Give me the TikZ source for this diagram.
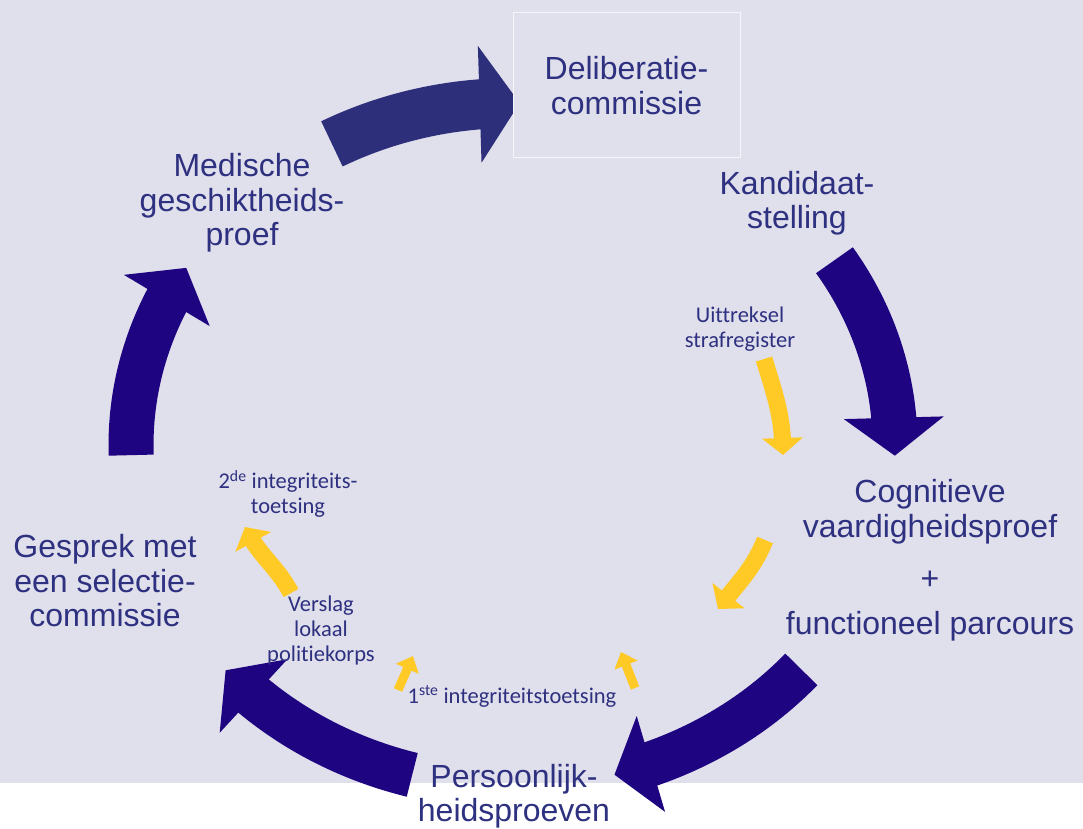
\documentclass[tikz,border=0pt]{standalone}
\usepackage{fontspec}
\setmainfont{Liberation Sans}
\newfontfamily\calibri[Ligatures=NoCommon]{Carlito}
\usetikzlibrary{arrows.meta,bending,calc}

\definecolor{bg}{RGB}{224,223,236}
\definecolor{ringblue}{RGB}{30,4,128}
\definecolor{topblue}{RGB}{45,47,123}
\definecolor{txtblue}{RGB}{46,48,128}
\definecolor{boxline}{RGB}{245,245,250}
\definecolor{yel}{RGB}{255,201,38}

\begin{document}
\begin{tikzpicture}[x=1pt,y=1pt]
		\useasboundingbox (0,0) rectangle (1083,828);
		\fill[white] (0,0) rectangle (1083,45);
		\fill[bg] (0,45) rectangle (1083,828);
		
		\coordinate (R) at (513,383);
		\coordinate (GT) at ($(R)+(181.7:382pt and 342pt)$);
		\coordinate (MT) at ($(R)+(118.3:382pt and 342pt)$);
		\coordinate (KT) at ($(R)+(32.7:382pt and 342pt)$);
		\coordinate (CT) at ($(R)+(-41:382pt and 342pt)$);
		\coordinate (PT) at ($(R)+(-105.3:382pt and 342pt)$);
		
		\tikzstyle{ring} = [line width=45pt,color=ringblue,-{Triangle[length=38pt,width=98pt]}]
		\draw [ring] (GT) arc[start angle=181.7,end angle=148.8,x radius=382pt,y radius=342pt];
		\draw [ring] (KT) arc[start angle=32.7,end angle=-1.8,x radius=382pt,y radius=342pt];
		\draw [ring] (CT) arc[start angle=-41,end angle=-74.6,x radius=382pt,y radius=342pt];
		\draw [ring] (PT) arc[start angle=-105.3,end angle=-138.8,x radius=382pt,y radius=342pt];
		
		\tikzstyle{ring} = [line width=50pt,color=topblue,-{Triangle[length=40pt,width=115pt]}]
		\draw [ring] (MT) arc[start angle=118.3,end angle=89,x radius=382pt,y radius=342pt];
		
		\begin{scope}[every node/.style={align=center,text=txtblue,inner sep=0pt,
				font=\fontsize{32}{34.5}\selectfont}]
			\node[draw=boxline,fill=bg,line width=1pt,minimum width=227pt,minimum height=145pt] (D) at (626.5,742.5) {Deliberatie-\\commissie};
			\node (K) at (797,625) {Kandidaat-\\stelling};
			\node (M) at (242,625) {Medische\\geschiktheids-\\proef};
			\node (C) at (930,268) {Cognitieve\\vaardigheidsproef\\[18pt]+\\[10pt]functioneel parcours};
			\node (G) at (105,247) {Gesprek met\\een selectie-\\commissie};
			\node (P) at (514,32) {Persoonlijk-\\heidsproeven};
		\end{scope}
		
		\begin{scope}[every node/.style={align=center,text=txtblue,inner sep=0pt,
				font=\calibri\fontsize{22.5}{25}\selectfont}]
			\node (U) at (740,499) {Uittreksel\\strafregister};
			\node (T2) at (288,334) {2\textsuperscript{de} integriteits-\\toetsing};
			\node (V) at (321,198) {Verslag\\lokaal\\politiekorps};
			\node (T1) at (512,131.5) {1\textsuperscript{ste} integriteitstoetsing};
		\end{scope}
		
		\coordinate (y1a) at (764,469);
		\coordinate (y1b) at (783,373);
		\coordinate (y2a) at (765,288);
		\coordinate (y2b) at (718,219);
		\coordinate (y3a) at (291,235);
		\coordinate (y3b) at (245,301);
		\coordinate (y4a) at (635,140);
		\coordinate (y4b) at (621,176);
		\coordinate (y5a) at (398,138);
		\coordinate (y5b) at (413,172);
		
		\tikzstyle{yarrow} = [line width=17pt,color=yel,-{Triangle[length=17pt,width=40pt]}]
		\draw [yarrow] (y1a) to[out=287,in=90] (y1b);
		\draw [yarrow] (y2a) to[out=248,in=53] (y2b);
		\draw [yarrow] (y3a) to[out=118,in=-65] (y3b);
		
		\tikzstyle{yarrow} = [line width=9pt,color=yel,-{Triangle[length=14pt,width=24pt]}]
		\draw [yarrow] (y4a) -- (y4b);
		\draw [yarrow] (y5a) -- (y5b);
		
	\end{tikzpicture}
\end{document}
